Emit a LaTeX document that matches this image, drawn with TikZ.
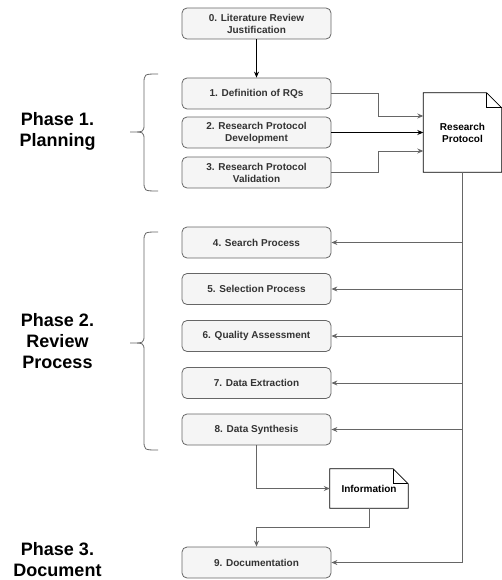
\documentclass[tikz,border=0pt]{standalone}
\usepackage{fontspec}
\setmainfont{Liberation Sans}
\usetikzlibrary{arrows.meta}
\definecolor{boxfill}{HTML}{F5F5F5}
\definecolor{boxline}{HTML}{666666}
\definecolor{txt}{HTML}{333333}
\definecolor{conn}{HTML}{666666}
\tikzset{
  stepbox/.style={draw=boxline, fill=boxfill, rounded corners=5pt, minimum width=149pt, minimum height=31pt, inner sep=0pt, align=center, text=txt, font=\bfseries\fontsize{10}{12}\selectfont, line width=0.8pt},
  docnode/.style={inner sep=0pt, align=center, text=black, font=\bfseries\fontsize{10}{12}\selectfont},
  phase/.style={align=center, font=\bfseries\fontsize{18}{21}\selectfont, text=black, inner sep=0pt},
  conn/.style={draw=conn, line width=0.9pt},
  arr/.style={conn, -{Stealth[length=6pt,width=5pt]}},
  brace/.style={draw=boxline, line width=0.8pt},
  docline/.style={draw=black, line width=0.8pt}
}
\begin{document}
\begin{tikzpicture}[x=1pt,y=-1pt]
\useasboundingbox (0,0) rectangle (502,580);
% process boxes
\node[stepbox] (b0) at (256.5,23.5) {0. Literature Review\\Justification};
\node[stepbox] (b1) at (256.5,93.5) {1. Definition of RQs};
\node[stepbox] (b2) at (256.5,132.5) {2. Research Protocol\\Development};
\node[stepbox] (b3) at (256.5,172.5) {3. Research Protocol\\Validation};
\node[stepbox] (b4) at (256.5,242.5) {4. Search Process};
\node[stepbox] (b5) at (256.5,289) {5. Selection Process};
\node[stepbox] (b6) at (256.5,336) {6. Quality Assessment};
\node[stepbox] (b7) at (256.5,383) {7. Data Extraction};
\node[stepbox] (b8) at (256.5,429.5) {8. Data Synthesis};
\node[stepbox] (b9) at (256.5,562.5) {9. Documentation};
% documents
\node[docnode, minimum width=78pt, minimum height=79pt] (rp) at (462.5,132.5) {Research\\Protocol};
\draw[docline] (rp.north west) -- ([xshift=-15pt]rp.north east) -- ([yshift=-15pt]rp.north east) -- (rp.south east) -- (rp.south west) -- cycle;
\draw[docline] ([xshift=-15pt]rp.north east) -- ([xshift=-15pt,yshift=-15pt]rp.north east) -- ([yshift=-15pt]rp.north east);
\node[docnode, minimum width=78pt, minimum height=39pt] (inf) at (369,488.5) {Information};
\draw[docline] (inf.north west) -- ([xshift=-15pt]inf.north east) -- ([yshift=-15pt]inf.north east) -- (inf.south east) -- (inf.south west) -- cycle;
\draw[docline] ([xshift=-15pt]inf.north east) -- ([xshift=-15pt,yshift=-15pt]inf.north east) -- ([yshift=-15pt]inf.north east);
% phase labels
\node[phase] (p1) at (57.5,131) {Phase 1.\\Planning};
\node[phase] (p2) at (57.5,341) {Phase 2.\\Review\\Process};
\node[phase] (p3) at (57.5,559.5) {Phase 3.\\Document};
% braces
\draw[brace] (158,74) .. controls (144,74) .. (144,84) -- (144,124) .. controls (144,132) .. (130,132) .. controls (144,132) .. (144,140) -- (144,181) .. controls (144,191) .. (158,191);
\draw[brace] (158,232) .. controls (144,232) .. (144,242) -- (144,335) .. controls (144,343) .. (130,343) .. controls (144,343) .. (144,351) -- (144,440) .. controls (144,450) .. (158,450);
% connectors
\draw[arr, draw=black, line width=0.8pt] (b0.south) -- (b1.north);
\coordinate (j1) at (378,116);
\coordinate (j3) at (378,151);
\draw[arr] (b1.east) -| (j1) -- (j1 -| rp.west);
\draw[arr, draw=black, line width=0.8pt] (b2.east) -- (b2.east -| rp.west);
\draw[arr] (b3.east) -| (j3) -- (j3 -| rp.west);
\draw[conn] (rp.south) -- (rp.south |- b9.east);
\foreach \b in {b4,b5,b6,b7,b8,b9}
  \draw[arr] (rp.south |- \b.east) -- (\b.east);
\draw[arr] (b8.south) |- (inf.west);
\coordinate (j5) at (369,527);
\draw[arr] (inf.south) -- (j5) -| (b9.north);
\end{tikzpicture}
\end{document}
